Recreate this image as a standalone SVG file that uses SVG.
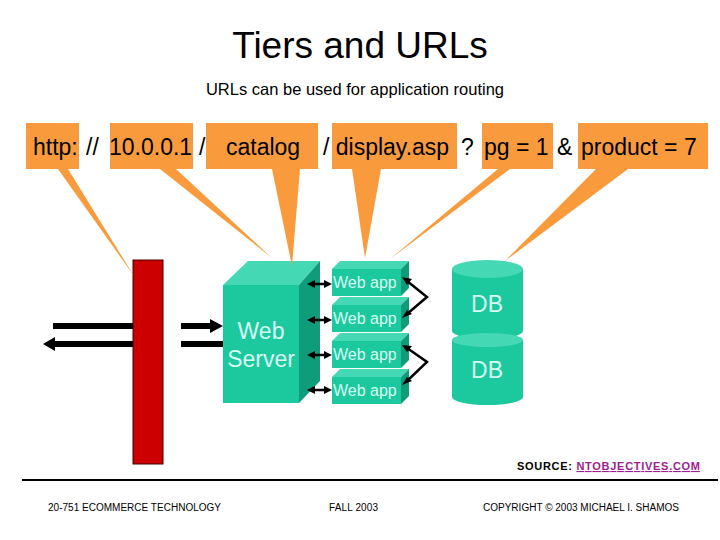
<svg xmlns="http://www.w3.org/2000/svg" width="720" height="540" viewBox="0 0 720 540">
<style>
text{font-family:"Liberation Sans",Arial,sans-serif}
.url{font-size:23px;fill:#000}
.ob{fill:#F99B3D}
.front{fill:#1CC89E}
.top{fill:#45D8B5}
.side{fill:#0F9C7A}
.lt{fill:#D6FFF2}
.foot{font-size:10px;fill:#000}
.sm{stroke:#000;stroke-width:2.5;fill:none}
.hd{fill:#000}
</style>
<rect width="720" height="540" fill="#fff"/>
<g id="title">
<text x="360" y="58" font-size="37" text-anchor="middle">Tiers and URLs</text>
<text x="355" y="95" font-size="16.5" text-anchor="middle">URLs can be used for application routing</text>
</g>
<g id="url">
<rect class="ob" x="26" y="123" width="53" height="46"/>
<rect class="ob" x="110" y="123" width="83" height="46"/>
<rect class="ob" x="206" y="123" width="112" height="46"/>
<rect class="ob" x="332" y="123" width="125" height="46"/>
<rect class="ob" x="482" y="123" width="71" height="46"/>
<rect class="ob" x="578" y="123" width="130" height="46"/>
<text class="url" x="33" y="155">http:</text>
<text class="url" x="86" y="155">//</text>
<text class="url" x="109" y="155">10.0.0.1</text>
<text class="url" x="199" y="155">/</text>
<text class="url" x="226" y="155">catalog</text>
<text class="url" x="323" y="155">/ display.asp</text>
<text class="url" x="461" y="155">?</text>
<text class="url" x="484" y="155">pg = 1</text>
<text class="url" x="557" y="155">&amp;</text>
<text class="url" x="581" y="155">product = 7</text>
</g>
<g id="firewall">
<rect x="133" y="260" width="30" height="204" fill="#CC0000" stroke="#400" stroke-width="1"/>
</g>
<g id="webserver">
<polygon class="top" points="223,285 299,285 320,261 248,261"/>
<polygon class="side" points="299,285 320,261 320,381 299,403"/>
<rect class="front" x="223" y="285" width="76" height="118"/>
<text class="lt" x="261" y="339" font-size="23" text-anchor="middle">Web</text>
<text class="lt" x="261" y="367" font-size="23" text-anchor="middle">Server</text>
</g>
<g id="webapps">
<g id="webapp1">
<polygon class="top" points="332,269 401,269 409,261 340,261"/>
<polygon class="side" points="401,269 409,261 409,288 401,296"/>
<rect class="front" x="332" y="269" width="69" height="27"/>
<text class="lt" x="333" y="288" font-size="16">Web app</text>
</g>
<g id="webapp2">
<polygon class="top" points="332,305 401,305 409,297 340,297"/>
<polygon class="side" points="401,305 409,297 409,324 401,332"/>
<rect class="front" x="332" y="305" width="69" height="27"/>
<text class="lt" x="333" y="324" font-size="16">Web app</text>
</g>
<g id="webapp3">
<polygon class="top" points="332,341 401,341 409,333 340,333"/>
<polygon class="side" points="401,341 409,333 409,360 401,368"/>
<rect class="front" x="332" y="341" width="69" height="27"/>
<text class="lt" x="333" y="360" font-size="16">Web app</text>
</g>
<g id="webapp4">
<polygon class="top" points="332,377 401,377 409,369 340,369"/>
<polygon class="side" points="401,377 409,369 409,396 401,404"/>
<rect class="front" x="332" y="377" width="69" height="27"/>
<text class="lt" x="333" y="396" font-size="16">Web app</text>
</g>
</g>
<g id="db1">
<path class="front" d="M452,269 L452,331 A35.5,8 0 0 0 523,331 L523,269 z"/>
<ellipse class="top" cx="487.5" cy="269" rx="35.5" ry="9"/>
<text class="lt" x="487" y="312" font-size="23" text-anchor="middle">DB</text>
</g>
<g id="db2">
<path class="front" d="M452,340 L452,397 A35.5,8 0 0 0 523,397 L523,340 z"/>
<ellipse class="top" cx="487.5" cy="340" rx="35.5" ry="7"/>
<text class="lt" x="487" y="378" font-size="23" text-anchor="middle">DB</text>
</g>
<g id="connectors">
<g id="callouts" class="ob">
<polygon points="58,169 68,169 134,276"/>
<polygon points="160,169 176,169 272,258"/>
<polygon points="272,169 300,169 292,266"/>
<polygon points="352,169 381,169 365,258"/>
<polygon points="498,169 510,169 390,259"/>
<polygon points="596,169 628,169 505,261"/>
</g>
<g id="bigarrows">
<rect x="53" y="323" width="80" height="6" fill="#000"/>
<rect x="53" y="341" width="80" height="6" fill="#000"/>
<polygon points="43,344 55,337 55,351" fill="#000"/>
<rect x="181" y="323" width="30" height="6" fill="#000"/>
<polygon points="223,326 210,319 210,333" fill="#000"/>
<rect x="181" y="341" width="42" height="6" fill="#000"/>
</g>
<g id="apparrows">
<g id="a1"><line class="sm" x1="313" y1="284" x2="326" y2="284"/><polygon class="hd" points="307,284 315,280 315,288"/><polygon class="hd" points="332,284 324,280 324,288"/></g>
<g id="a2"><line class="sm" x1="313" y1="320" x2="326" y2="320"/><polygon class="hd" points="307,320 315,316 315,324"/><polygon class="hd" points="332,320 324,316 324,324"/></g>
<g id="a3"><line class="sm" x1="313" y1="355" x2="326" y2="355"/><polygon class="hd" points="307,355 315,351 315,359"/><polygon class="hd" points="332,355 324,351 324,359"/></g>
<g id="a4"><line class="sm" x1="313" y1="390" x2="326" y2="390"/><polygon class="hd" points="307,390 315,386 315,394"/><polygon class="hd" points="332,390 324,386 324,394"/></g>
<g id="a5"><polyline class="sm" points="407,281 427,297 407,314"/><polygon class="hd" points="402,277 412,279 407,285"/><polygon class="hd" points="402,318 407,310 412,314"/></g>
<g id="a6"><polyline class="sm" points="407,348 427,362 407,381"/><polygon class="hd" points="402,345 412,346 407,352"/><polygon class="hd" points="402,385 407,377 412,381"/></g>
</g>
</g>
<g id="footer">
<text x="517" y="470" font-size="11" font-weight="bold" textLength="183">SOURCE: <tspan fill="#A0208F" text-decoration="underline">NTOBJECTIVES.COM</tspan></text>
<rect x="22" y="479" width="696" height="2" fill="#000"/>
<text class="foot" x="48" y="511" textLength="173">20-751 ECOMMERCE TECHNOLOGY</text>
<text class="foot" x="329" y="511" textLength="49">FALL 2003</text>
<text class="foot" x="483" y="511" textLength="196">COPYRIGHT © 2003 MICHAEL I. SHAMOS</text>
</g>
</svg>
